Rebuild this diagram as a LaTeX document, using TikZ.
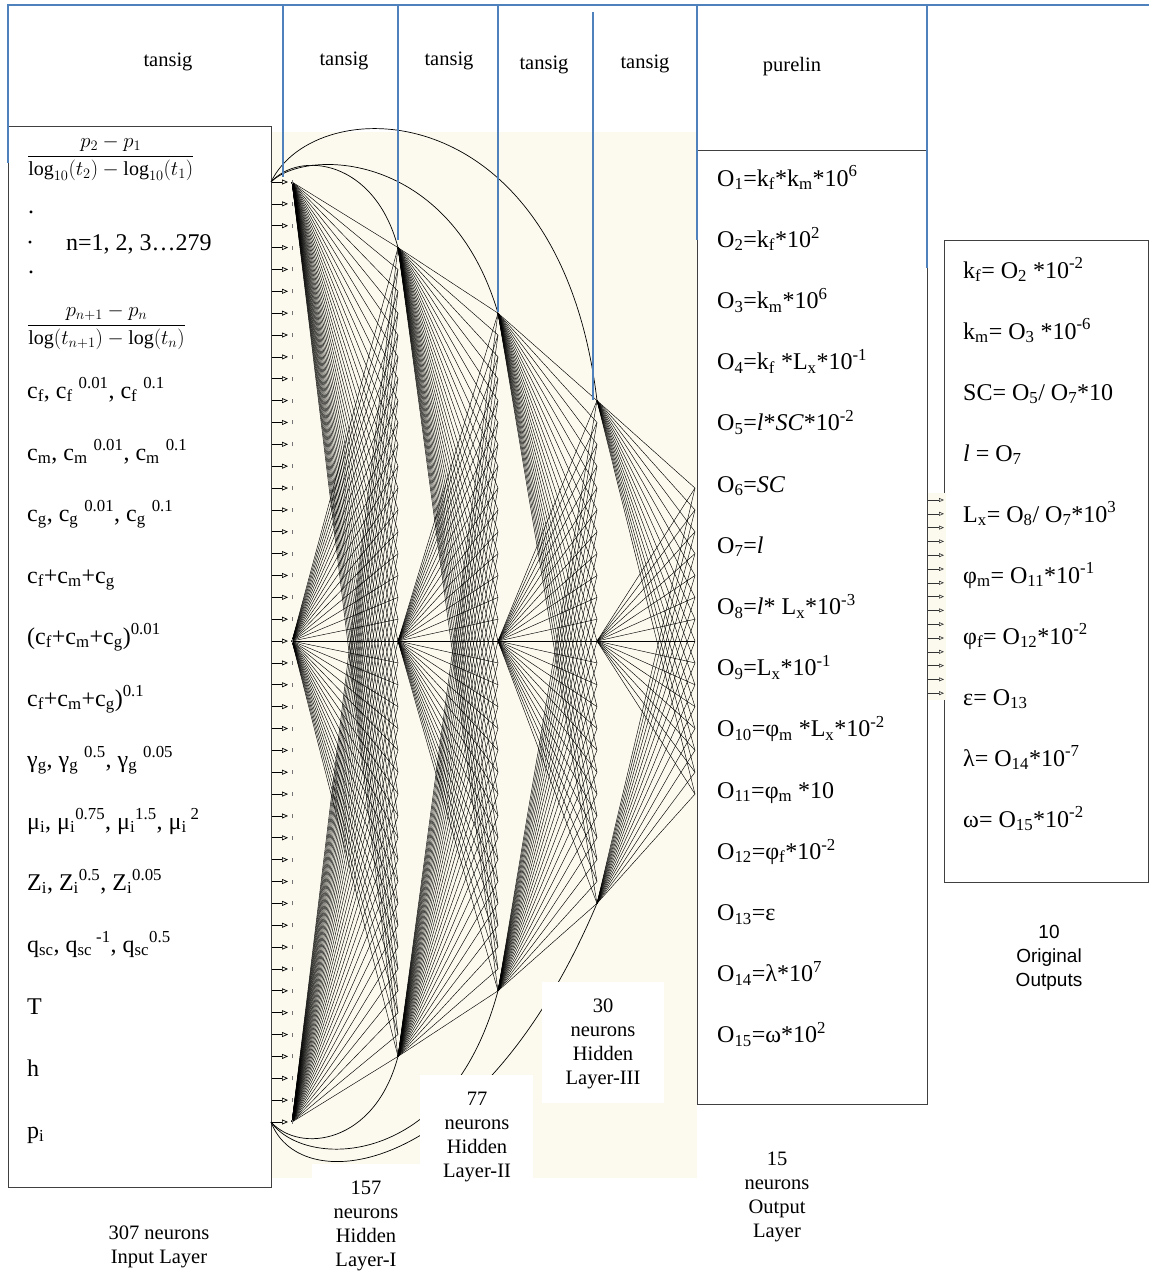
\documentclass[tikz,border=0pt]{standalone}
\usepackage{fontspec}
\setmainfont{Liberation Serif}
\newfontfamily\arialfont{Liberation Sans}
\usetikzlibrary{arrows.meta}
\definecolor{hdrblue}{RGB}{79,129,189}
\definecolor{cream}{RGB}{252,250,238}
\definecolor{boxgray}{RGB}{64,64,64}
\newcommand\sbx[1]{\textsubscript{#1}}
\newcommand\spx[1]{\textsuperscript{#1}}
\begin{document}
\begin{tikzpicture}[x=1pt,y=-1pt,
  blueln/.style={draw=hdrblue,line width=1.6pt},
  boxln/.style={draw=boxgray,line width=1.3pt,rectangle,inner sep=0pt,anchor=north west},
  fanln/.style={line width=0.45pt,draw=black},
  arcln/.style={line width=0.7pt,draw=black},
  inarrow/.style={draw=black,line width=0.7pt,-{Triangle[open,length=6pt,width=5pt]}},
  outarrow/.style={draw=black!80,line width=0.6pt,-{Triangle[open,length=5pt,width=4pt]}},
  tickln/.style={draw=black!55,line width=0.6pt},
  bigtxt/.style={font=\fontsize{24}{28}\selectfont,anchor=base west,inner sep=0pt},
  lbl/.style={font=\fontsize{20.5}{24.2}\selectfont,align=center,inner sep=0pt},
  hdr/.style={font=\fontsize{20.5}{24}\selectfont,inner sep=0pt},
]
\useasboundingbox (0,0) rectangle (1149,1274);
\fill[white] (0,0) rectangle (1149,1274);
% cream working area
\fill[cream] (271,132) rectangle (697,1178);

% boxes
\node[boxln,minimum width=263pt,minimum height=1061pt] (inbox) at (8,126) {};
\node[boxln,minimum width=230pt,minimum height=954pt] (outbox) at (697,150) {};
\node[boxln,minimum width=204pt,minimum height=642pt] (finbox) at (944,240) {};

% neuron columns
\foreach \k in {0,...,43} {\coordinate (A\k) at (292,{182+21.86*\k});}
\foreach \k in {3,...,40} {\coordinate (B\k) at (398,{182+21.86*\k});}
\foreach \k in {6,...,37} {\coordinate (C\k) at (498,{182+21.86*\k});}
\foreach \k in {10,...,33} {\coordinate (D\k) at (597,{182+21.86*\k});}
\foreach \k in {14,...,28} {\coordinate (E\k) at (695,{182+21.86*\k});}

% fans
\foreach \s in {0,21,43} {\foreach \k in {3,...,40} {\draw[fanln] (A\s) -- (B\k);}}
\foreach \s in {3,21,40} {\foreach \k in {6,...,37} {\draw[fanln] (B\s) -- (C\k);}}
\foreach \s in {6,21,37} {\foreach \k in {10,...,33} {\draw[fanln] (C\s) -- (D\k);}}
\foreach \s in {10,21,33} {\foreach \k in {14,...,28} {\draw[fanln] (D\s) -- (E\k);}}

% skip arcs
\coordinate (Stop) at (271,182);
\coordinate (Sbot) at (271,1122);
\draw[arcln] (Stop) .. controls (300,150) and (375,160) .. (B3);
\draw[arcln] (Stop) .. controls (305,148) and (450,150) .. (C6);
\draw[arcln] (Stop) .. controls (315,90) and (560,90) .. (D10);
\draw[arcln] (Sbot) .. controls (300,1154) and (375,1144) .. (B40);
\draw[arcln] (Sbot) .. controls (305,1170) and (450,1170) .. (C37);
\draw[arcln] (Sbot) .. controls (300,1200) and (480,1180) .. (D33);

% input arrows
\foreach \k in {0,...,43} {
  \draw[inarrow] (inbox.east |- A\k) -- ([xshift=-4pt]A\k);
  \draw[tickln] ([yshift=-2pt]A\k) -- ([yshift=2pt]A\k);
}

% white label backgrounds
\fill[white] (312,1164) rectangle (420,1274);
\fill[white] (420,1075) rectangle (533,1185);
\fill[white] (542,982) rectangle (664,1103);

% output arrows into final box
\fill[cream] (928,493) rectangle (945.5,700);
\foreach \k in {0,...,14} {\coordinate (R\k) at (944,{500+13.8*\k});
  \draw[outarrow] (outbox.east |- R\k) -- (R\k);}

% blue header lines
\draw[blueln] (8,163) -- (8,5) -- (1149,5);
\draw[blueln] (283,5) -- (283,177);
\draw[blueln] (398,5) -- (398,240);
\draw[blueln] (498,5) -- (498,312);
\draw[blueln] (593,12) -- (593,400);
\draw[blueln] (697,5) -- (697,240);
\draw[blueln] (927,5) -- (927,268);

% headers
\node[hdr] (h0) at (168,62) {tansig};
\node[hdr] (h1) at (344,61) {tansig};
\node[hdr] (h2) at (449,61) {tansig};
\node[hdr] (h3) at (544,65) {tansig};
\node[hdr] (h4) at (645,64) {tansig};
\node[hdr] (h5) at (792,67) {purelin};

% input texts
\node[anchor=west,inner sep=0pt] (fr1) at (27,158) {\fontsize{20}{24}\selectfont$\displaystyle\frac{p_2-p_1}{\log_{10}(t_2)-\log_{10}(t_1)}$};
\node[bigtxt] (dA) at (28,213) {.};
\node[bigtxt] (dB) at (26,250) {·};
\node[bigtxt] (nr) at (66,250) {n=1, 2, 3…279};
\node[bigtxt] (dC) at (28,273) {.};
\node[anchor=west,inner sep=0pt] (fr2) at (27,327) {\fontsize{20}{24}\selectfont$\displaystyle\frac{p_{n+1}-p_n}{\log(t_{n+1})-\log(t_n)}$};
\node[bigtxt] (i1) at (27,398) {c\sbx{f}, c\sbx{f} \spx{0.01}, c\sbx{f} \spx{0.1}};
\node[bigtxt] (i2) at (27,460) {c\sbx{m}, c\sbx{m} \spx{0.01}, c\sbx{m} \spx{0.1}};
\node[bigtxt] (i3) at (27,521) {c\sbx{g}, c\sbx{g} \spx{0.01}, c\sbx{g} \spx{0.1}};
\node[bigtxt] (i4) at (27,583) {c\sbx{f}+c\sbx{m}+c\sbx{g}};
\node[bigtxt] (i5) at (27,644) {(c\sbx{f}+c\sbx{m}+c\sbx{g})\spx{0.01}};
\node[bigtxt] (i6) at (27,706) {c\sbx{f}+c\sbx{m}+c\sbx{g})\spx{0.1}};
\node[bigtxt] (i7) at (27,767) {γ\sbx{g}, γ\sbx{g} \spx{0.5}, γ\sbx{g} \spx{0.05}};
\node[bigtxt] (i8) at (27,829) {μ\sbx{i}, μ\sbx{i}\spx{0.75}, μ\sbx{i}\spx{1.5}, μ\sbx{i}\,\spx{2}};
\node[bigtxt] (i9) at (27,890) {Z\sbx{i}, Z\sbx{i}\spx{0.5}, Z\sbx{i}\spx{0.05}};
\node[bigtxt] (i10) at (27,952) {q\sbx{sc}, q\sbx{sc}\,\spx{-1}, q\sbx{sc}\spx{0.5}};
\node[bigtxt] (i11) at (27,1014) {T};
\node[bigtxt] (i12) at (27,1076) {h};
\node[bigtxt] (i13) at (27,1138) {p\sbx{i}};

% output layer texts
\node[bigtxt] (o1) at (717,186) {O\sbx{1}=k\sbx{f}*k\sbx{m}*10\spx{6}};
\node[bigtxt] (o2) at (717,247.2) {O\sbx{2}=k\sbx{f}*10\spx{2}};
\node[bigtxt] (o3) at (717,308.4) {O\sbx{3}=k\sbx{m}*10\spx{6}};
\node[bigtxt] (o4) at (717,369.6) {O\sbx{4}=k\sbx{f} *L\sbx{x}*10\spx{-1}};
\node[bigtxt] (o5) at (717,430.8) {O\sbx{5}=\textit{l}*\textit{SC}*10\spx{-2}};
\node[bigtxt] (o6) at (717,492) {O\sbx{6}=\textit{SC}};
\node[bigtxt] (o7) at (717,553.2) {O\sbx{7}=\textit{l}};
\node[bigtxt] (o8) at (717,614.4) {O\sbx{8}=\textit{l}* L\sbx{x}*10\spx{-3}};
\node[bigtxt] (o9) at (717,675.6) {O\sbx{9}=L\sbx{x}*10\spx{-1}};
\node[bigtxt] (o10) at (717,736.8) {O\sbx{10}=φ\sbx{m} *L\sbx{x}*10\spx{-2}};
\node[bigtxt] (o11) at (717,798) {O\sbx{11}=φ\sbx{m} *10};
\node[bigtxt] (o12) at (717,859.2) {O\sbx{12}=φ\sbx{f}*10\spx{-2}};
\node[bigtxt] (o13) at (717,920.4) {O\sbx{13}=ε};
\node[bigtxt] (o14) at (717,981.6) {O\sbx{14}=λ*10\spx{7}};
\node[bigtxt] (o15) at (717,1042.8) {O\sbx{15}=ω*10\spx{2}};

% original outputs
\node[bigtxt] (r1) at (963,278) {k\sbx{f}= O\sbx{2} *10\spx{-2}};
\node[bigtxt] (r2) at (963,339) {k\sbx{m}= O\sbx{3} *10\spx{-6}};
\node[bigtxt] (r3) at (963,400) {SC= O\sbx{5}/ O\sbx{7}*10};
\node[bigtxt] (r4) at (963,461) {\textit{l} = O\sbx{7}};
\node[bigtxt] (r5) at (963,522) {L\sbx{x}= O\sbx{8}/ O\sbx{7}*10\spx{3}};
\node[bigtxt] (r6) at (963,583) {φ\sbx{m}= O\sbx{11}*10\spx{-1}};
\node[bigtxt] (r7) at (963,644) {φ\sbx{f}= O\sbx{12}*10\spx{-2}};
\node[bigtxt] (r8) at (963,705) {ε= O\sbx{13}};
\node[bigtxt] (r9) at (963,766) {λ= O\sbx{14}*10\spx{-7}};
\node[bigtxt] (r10) at (963,827) {ω= O\sbx{15}*10\spx{-2}};

% layer labels
\node[lbl] (lin) at (159,1247) {307 neurons\\Input Layer};
\node[lbl] (lh1) at (366,1226) {157\\neurons\\Hidden\\Layer-I};
\node[lbl] (lh2) at (477,1137) {77\\neurons\\Hidden\\Layer-II};
\node[lbl] (lh3) at (603,1044) {30\\neurons\\Hidden\\Layer-III};
\node[lbl] (lout) at (777,1197) {15\\neurons\\Output\\Layer};
\node[lbl,font=\arialfont\fontsize{19}{24.2}\selectfont] (lfin) at (1049,958) {10\\Original\\Outputs};
\end{tikzpicture}
\end{document}
